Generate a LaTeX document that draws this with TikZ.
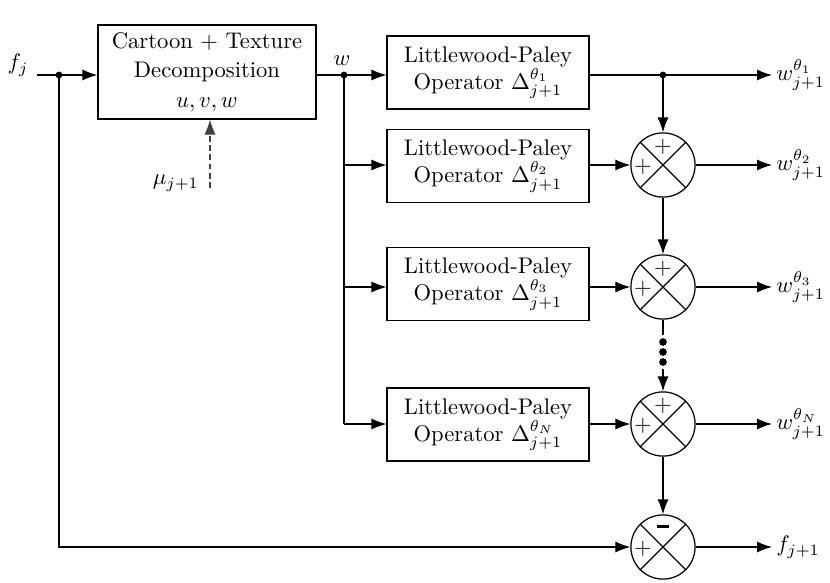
\documentclass[tikz,border=0pt]{standalone}
\usetikzlibrary{arrows.meta}
\begin{document}
\begin{tikzpicture}[x=0.4425pt,y=-0.4425pt,
  line width=0.55pt,
  arr/.style={-{Latex[length=6.6pt,width=4.9pt]}},
  blk/.style={draw,align=center,inner sep=0pt},
  lpbox/.style={blk,minimum width=89.4pt,minimum height=32.3pt},
  sumj/.style={draw,circle,minimum size=28.4pt,inner sep=0pt},
  sgn/.style={inner sep=0pt},
  outl/.style={anchor=west,inner sep=0pt},
  dotj/.style={circle,fill,inner sep=0pt,minimum size=3pt}]
\useasboundingbox (0,0) rectangle (830,582);
% input
\node (fj) at (18,65) {$f_j$};
\coordinate (fin) at (37,75);
\coordinate (fd) at (59,75);
\node[dotj] at (fd) {};
\node[blk,minimum width=96.5pt,minimum height=41.6pt] (dec) at (207,72) {Cartoon + Texture\\[1pt]Decomposition\\[1pt]$u,v,w$};
\draw (fin) -- (fd);
\draw[arr] (fd) -- (fd -| dec.west);
% mu
\node[anchor=east] (mu) at (207,183) {$\mu_{j+1}$};
\coordinate (mus) at (210,188);
\draw[arr,draw=black!75,line width=0.45pt,dash pattern=on 2.6pt off 1.5pt] (mus) -- (mus |- dec.south);
% w split
\coordinate (wd) at (344,75);
\node[dotj] at (wd) {};
\node (w) at (342,61) {$w$};
% LP boxes
\node[lpbox] (lp1) at (488,72.5) {Littlewood-Paley\\Operator $\Delta_{j+1}^{\theta_1}$};
\node[lpbox] (lp2) at (488,166) {Littlewood-Paley\\Operator $\Delta_{j+1}^{\theta_2}$};
\node[lpbox] (lp3) at (488,284) {Littlewood-Paley\\Operator $\Delta_{j+1}^{\theta_3}$};
\node[lpbox] (lp4) at (488,424.5) {Littlewood-Paley\\Operator $\Delta_{j+1}^{\theta_N}$};
% summing junctions
\foreach \n/\y in {s1/165,s2/287,s3/424,s4/547}{
  \node[sumj] (\n) at (663,\y) {};
  \draw (\n.north east) -- (\n.south west);
  \draw (\n.north west) -- (\n.south east);
}
\foreach \n in {s1,s2,s3}{
  \node[sgn] at ([yshift=-6.3pt]\n.north) {$+$};
  \node[sgn] at ([xshift=5.6pt,yshift=-0.6pt]\n.west) {$+$};
}
\node[inner sep=0pt] at ([yshift=-5.3pt]s4.north) {\rule{5.2pt}{1.5pt}};
\node[sgn] at ([xshift=5.6pt,yshift=-0.6pt]s4.west) {$+$};
\draw (dec.east |- wd) -- (wd);
\draw[arr] (wd) -- (wd -| lp1.west);
\draw (wd) -- (wd |- s3);
\draw[arr] (wd |- s1) -- (wd |- s1 -| lp2.west);
\draw[arr] (wd |- s2) -- (wd |- s2 -| lp3.west);
\draw[arr] (wd |- s3) -- (wd |- s3 -| lp4.west);
% outputs
\node[outl] (o1) at (772,75) {$\,w_{j+1}^{\theta_1}$};
\node[outl] (o2) at (772,165) {$\,w_{j+1}^{\theta_2}$};
\node[outl] (o3) at (772,287) {$\,w_{j+1}^{\theta_3}$};
\node[outl] (o4) at (772,424) {$\,w_{j+1}^{\theta_N}$};
\node[outl] (o5) at (772,547) {$\,f_{j+1}$};
\coordinate (td) at (663,75);
\node[dotj] at (td) {};
\draw (lp1.east |- td) -- (td);
\draw[arr] (td) -- (td -| o1.west);
\draw[arr] (td) -- (s1.north);
\draw[arr] (lp2.east |- s1) -- (s1.west);
\draw[arr] (lp3.east |- s2) -- (s2.west);
\draw[arr] (lp4.east |- s3) -- (s3.west);
\draw[arr] (s1.east) -- (s1 -| o2.west);
\draw[arr] (s2.east) -- (s2 -| o3.west);
\draw[arr] (s3.east) -- (s3 -| o4.west);
\draw[arr] (s4.east) -- (s4 -| o5.west);
\draw[arr] (s1.south) -- (s2.north);
\coordinate (c1) at (663,335);
\coordinate (c2) at (663,369);
\draw (s2.south) -- (c1);
\foreach \y in {342,352,362}{\fill (663,\y) circle (1.7pt);}
\draw[arr] (c2) -- (s3.north);
\draw[arr] (s3.south) -- (s4.north);
% feedback
\draw[arr] (fd) -- (fd |- s4) -- (s4.west);
\end{tikzpicture}
\end{document}
